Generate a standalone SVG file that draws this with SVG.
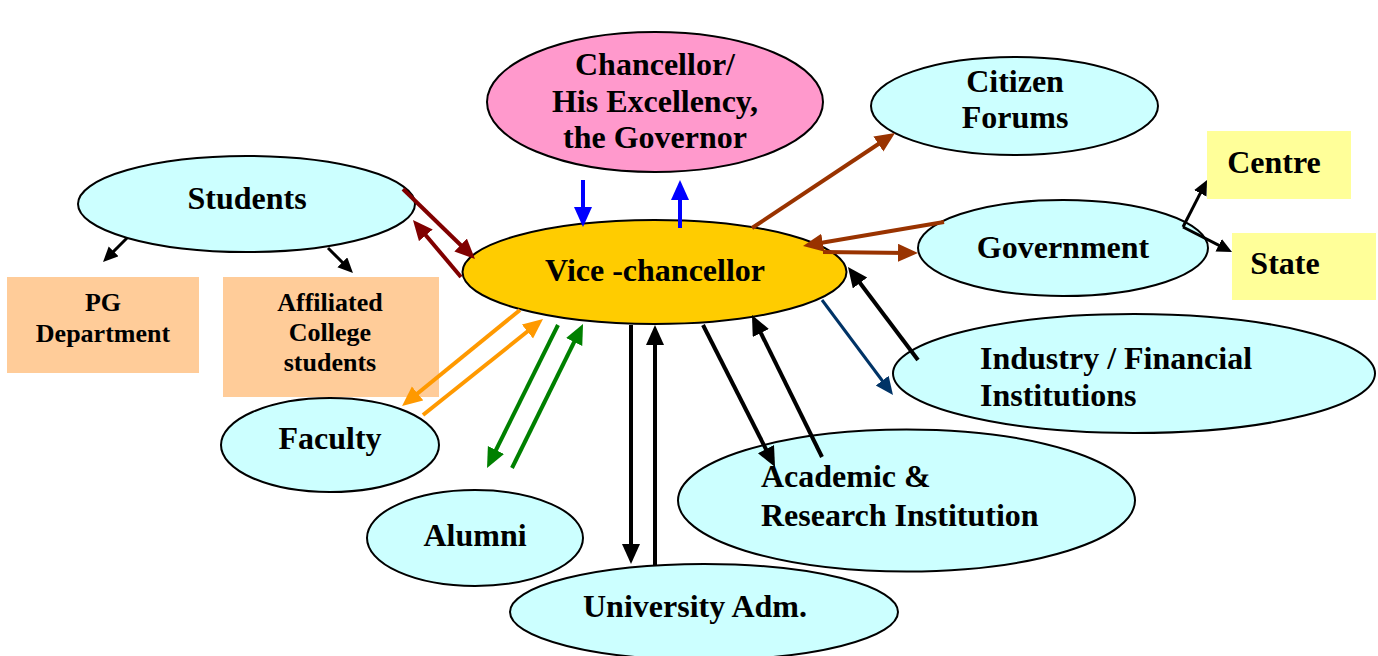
<svg xmlns="http://www.w3.org/2000/svg" width="1378" height="656" viewBox="0 0 1378 656">
<style>
.n{fill:#ccffff;stroke:#000;stroke-width:2}
.t{font-family:"Liberation Serif","Times New Roman",serif;font-weight:bold;font-size:32px;fill:#000}
.s{font-size:26px}
.c{text-anchor:middle}
.a{fill:none;stroke-width:4}
.th{stroke-width:3}
</style>
<defs>
<marker id="mb" markerUnits="userSpaceOnUse" markerWidth="22" markerHeight="22" refX="10" refY="9" orient="auto"><path d="M0,0 L20,9 L0,18 z" fill="#0000ff"/></marker>
<marker id="mr" markerUnits="userSpaceOnUse" markerWidth="22" markerHeight="22" refX="10" refY="9" orient="auto"><path d="M0,0 L20,9 L0,18 z" fill="#800000"/></marker>
<marker id="mw" markerUnits="userSpaceOnUse" markerWidth="22" markerHeight="22" refX="10" refY="9" orient="auto"><path d="M0,0 L20,9 L0,18 z" fill="#993300"/></marker>
<marker id="mo" markerUnits="userSpaceOnUse" markerWidth="22" markerHeight="22" refX="10" refY="9" orient="auto"><path d="M0,0 L20,9 L0,18 z" fill="#ff9900"/></marker>
<marker id="mg" markerUnits="userSpaceOnUse" markerWidth="22" markerHeight="22" refX="10" refY="9" orient="auto"><path d="M0,0 L20,9 L0,18 z" fill="#008000"/></marker>
<marker id="mn" markerUnits="userSpaceOnUse" markerWidth="22" markerHeight="22" refX="8" refY="8" orient="auto"><path d="M0,0 L18,8 L0,16 z" fill="#003366"/></marker>
<marker id="mk" markerUnits="userSpaceOnUse" markerWidth="22" markerHeight="22" refX="10" refY="9" orient="auto"><path d="M0,0 L20,9 L0,18 z" fill="#000"/></marker>
<marker id="ms" markerUnits="userSpaceOnUse" markerWidth="18" markerHeight="18" refX="7" refY="7" orient="auto"><path d="M0,0 L15,7 L0,14 z" fill="#000"/></marker>
</defs>
<g id="pg"><rect x="7" y="277" width="192" height="96" fill="#ffcc99"/><text class="t s c" x="103" y="311">PG</text><text class="t s c" x="103" y="342">Department</text></g>
<g id="affiliated"><rect x="223" y="277" width="216" height="120" fill="#ffcc99"/><text class="t s c" x="330" y="311">Affiliated</text><text class="t s c" x="330" y="341">College</text><text class="t s c" x="330" y="371">students</text></g>
<g id="centre"><rect x="1207" y="131" width="144" height="68" fill="#ffff99"/><text class="t c" x="1274" y="173">Centre</text></g>
<g id="state"><rect x="1232" y="233" width="144" height="67" fill="#ffff99"/><text class="t c" x="1285" y="274">State</text></g>
<g id="chancellor"><ellipse cx="655" cy="102" rx="168" ry="70" fill="#ff99cc" stroke="#000" stroke-width="2"/><text class="t c" x="655" y="75">Chancellor/</text><text class="t c" x="655" y="112">His Excellency,</text><text class="t c" x="655" y="148">the Governor</text></g>
<g id="citizen"><ellipse class="n" cx="1014.5" cy="106" rx="143.5" ry="49"/><text class="t c" x="1015" y="92">Citizen</text><text class="t c" x="1015" y="128">Forums</text></g>
<g id="students"><ellipse class="n" cx="246.5" cy="204" rx="168.5" ry="48"/><text class="t c" x="247" y="209">Students</text></g>
<g id="government"><ellipse class="n" cx="1063" cy="248" rx="145" ry="48"/><text class="t c" x="1063" y="258">Government</text></g>
<g id="industry"><ellipse class="n" cx="1134" cy="373.5" rx="241" ry="59.5"/><text class="t" x="980" y="369">Industry / Financial</text><text class="t" x="980" y="406">Institutions</text></g>
<g id="faculty"><ellipse class="n" cx="330" cy="445" rx="109" ry="47"/><text class="t c" x="330" y="449">Faculty</text></g>
<g id="university"><ellipse class="n" cx="704" cy="612" rx="194" ry="48"/><text class="t c" x="695" y="617">University Adm.</text></g>
<g id="academic"><ellipse class="n" cx="906.5" cy="500.5" rx="228.5" ry="71"/><text class="t" x="761" y="487">Academic &amp;</text><text class="t" x="761" y="526">Research Institution</text></g>
<g id="alumni"><ellipse class="n" cx="475" cy="538" rx="108" ry="48"/><text class="t c" x="475" y="546">Alumni</text></g>
<g id="vc"><ellipse cx="654.5" cy="272" rx="192" ry="52" fill="#ffcc00" stroke="#000" stroke-width="2"/><text class="t c" x="655" y="281">Vice -chancellor</text></g>
<g id="connectors">
<line class="a" stroke="#0000ff" x1="583" y1="180" x2="583" y2="217" marker-end="url(#mb)"/>
<line class="a" stroke="#0000ff" x1="680" y1="228" x2="680" y2="190" marker-end="url(#mb)"/>
<line class="a" stroke="#800000" x1="403" y1="189" x2="467.8" y2="252" marker-end="url(#mr)"/>
<line class="a" stroke="#800000" x1="461" y1="277" x2="419.4" y2="227.7" marker-end="url(#mr)"/>
<line class="a" stroke="#993300" x1="752" y1="228" x2="886.7" y2="138.5" marker-end="url(#mw)"/>
<line class="a" stroke="#993300" x1="944" y1="222" x2="812.9" y2="244.3" marker-end="url(#mw)"/>
<line class="a" stroke="#993300" x1="823" y1="252" x2="908" y2="252.9" marker-end="url(#mw)"/>
<line class="a th" stroke="#000" x1="1183" y1="227" x2="1203.4" y2="187.1" marker-end="url(#ms)"/>
<line class="a th" stroke="#000" x1="1183" y1="227" x2="1224.9" y2="248.4" marker-end="url(#ms)"/>
<line class="a th" stroke="#000" x1="127" y1="238" x2="108.7" y2="256.3" marker-end="url(#ms)"/>
<line class="a th" stroke="#000" x1="328" y1="248" x2="347.3" y2="267.3" marker-end="url(#ms)"/>
<line class="a" stroke="#ff9900" x1="520" y1="310" x2="409.8" y2="399.7" marker-end="url(#mo)"/>
<line class="a" stroke="#ff9900" x1="423" y1="415" x2="535.2" y2="325.3" marker-end="url(#mo)"/>
<line class="a" stroke="#008000" x1="558" y1="325" x2="491.5" y2="459" marker-end="url(#mg)"/>
<line class="a" stroke="#008000" x1="512" y1="468" x2="578.6" y2="333" marker-end="url(#mg)"/>
<line class="a" stroke="#000" x1="631" y1="325" x2="631" y2="554" marker-end="url(#mk)"/>
<line class="a" stroke="#000" x1="655" y1="565" x2="655" y2="335" marker-end="url(#mk)"/>
<line class="a" stroke="#000" x1="703" y1="325" x2="770.5" y2="458.1" marker-end="url(#mk)"/>
<line class="a" stroke="#000" x1="822" y1="457" x2="756.4" y2="324" marker-end="url(#mk)"/>
<line class="a th" stroke="#003366" x1="822" y1="300" x2="887" y2="387" marker-end="url(#mn)"/>
<line class="a" stroke="#000" x1="918" y1="360" x2="854" y2="275" marker-end="url(#mk)"/>
</g>
</svg>
